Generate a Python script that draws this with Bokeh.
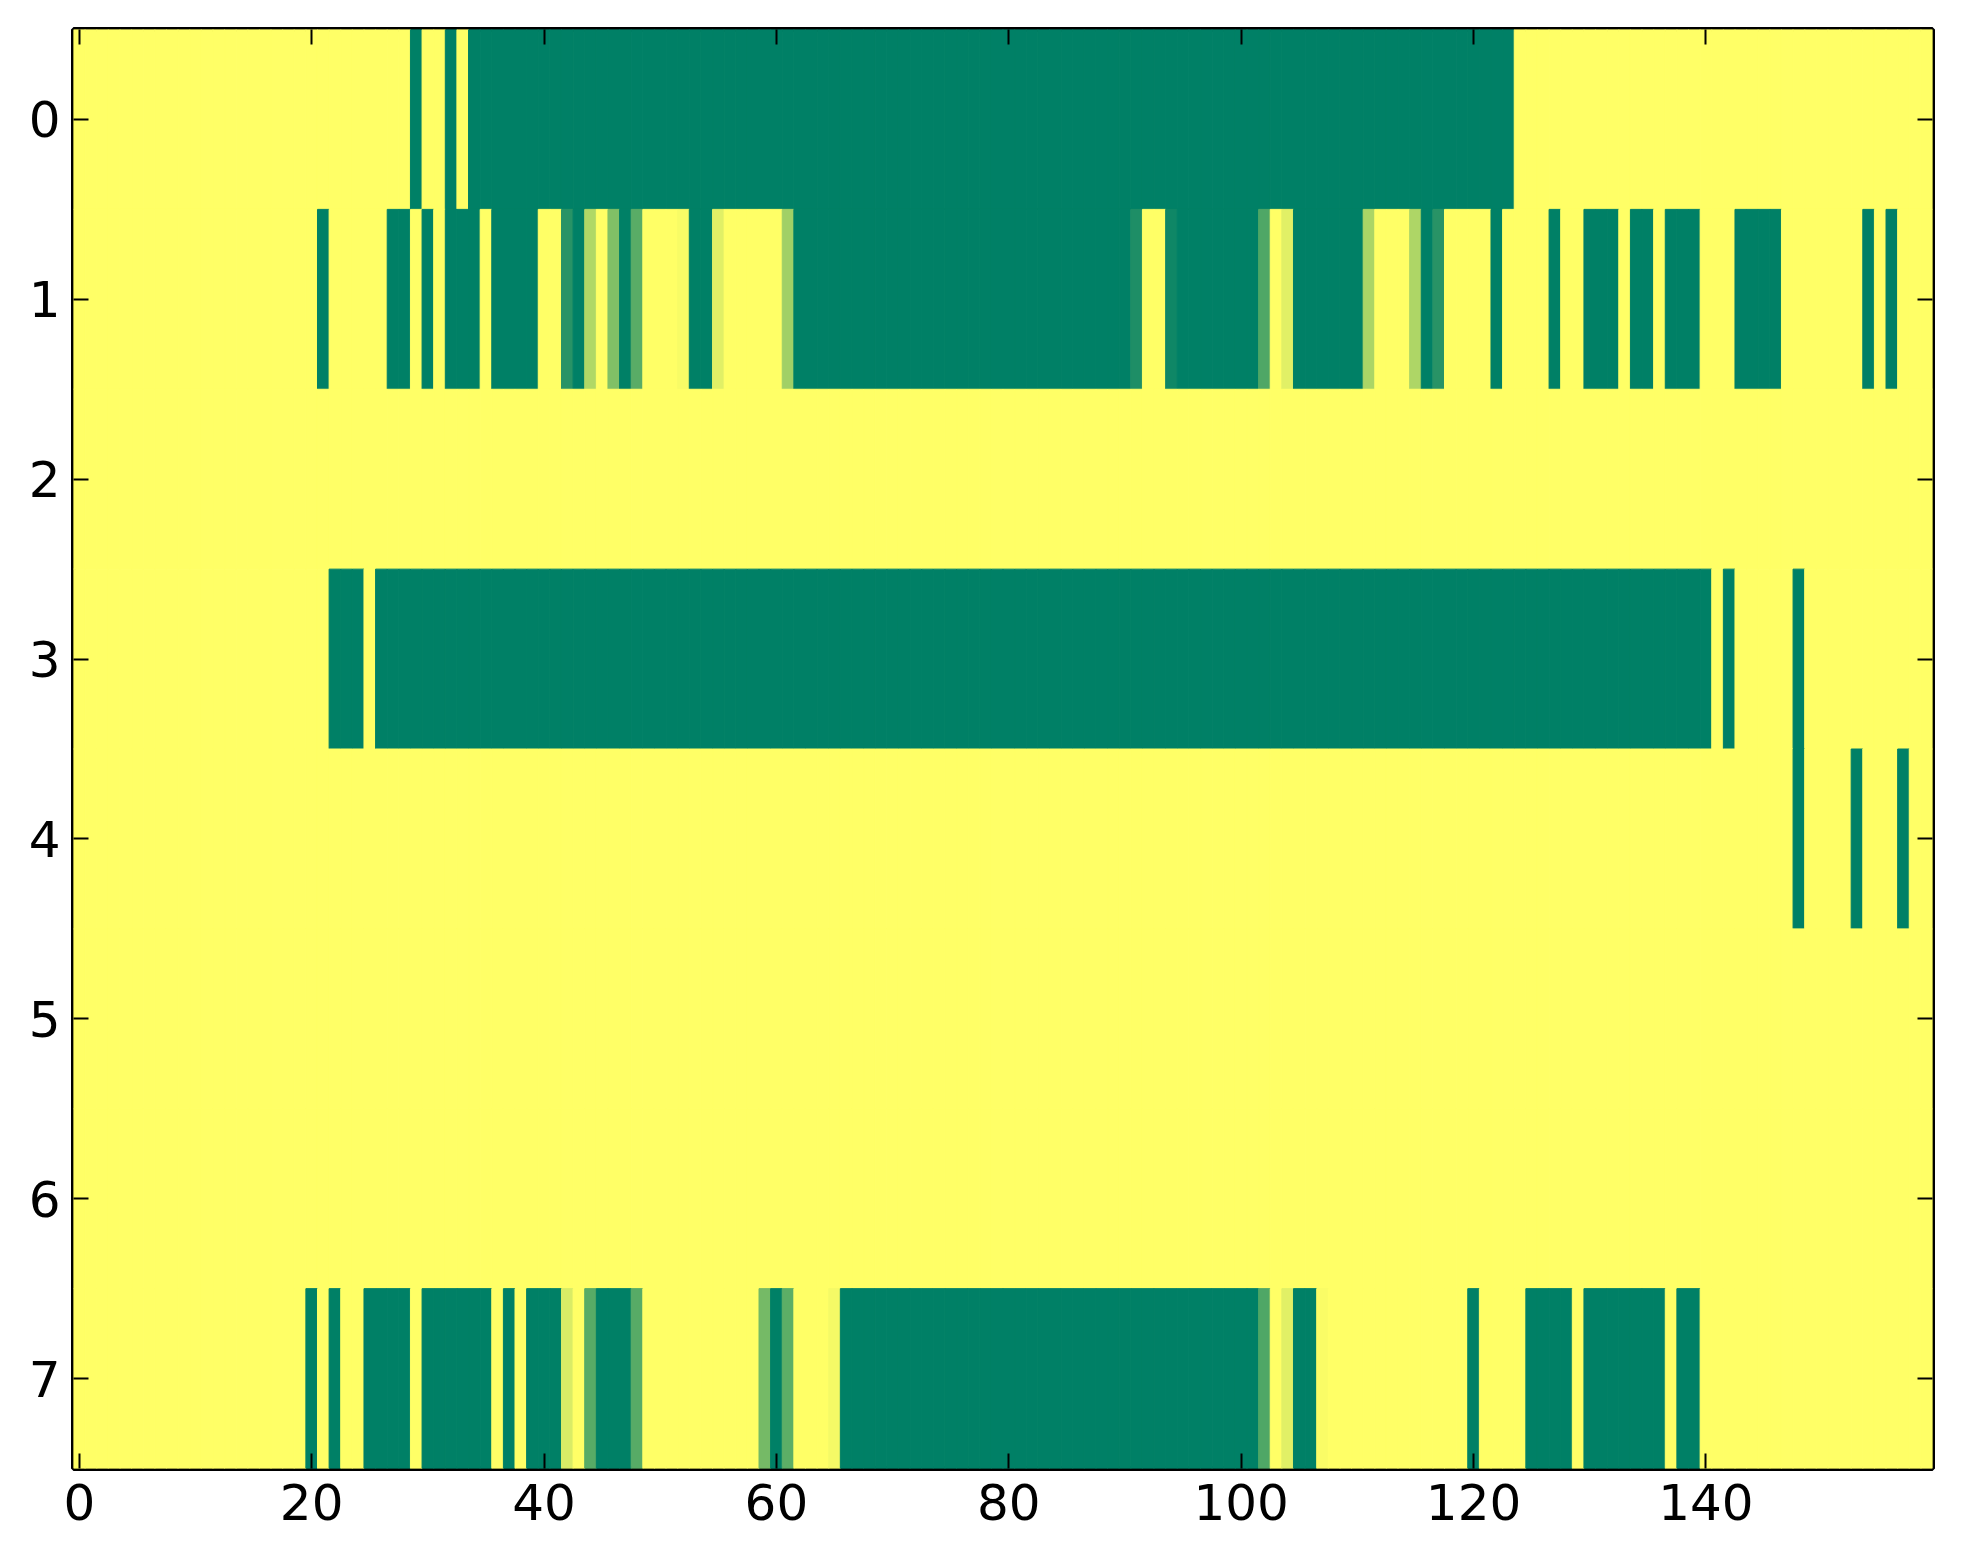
import numpy as np
from bokeh.plotting import figure
from bokeh.models import Range1d, LinearAxis, FixedTicker, LinearColorMapper, ColumnDataSource
from bokeh.embed import file_html
from bokeh.resources import INLINE

# ---- data ----
n_cols = 160
row_ids = [0, 1, 2, 3, 4, 5, 6, 7]
x_ticks = [0, 20, 40, 60, 80, 100, 120, 140]
y_ticks = [0, 1, 2, 3, 4, 5, 6, 7]

# each row as (run length, value) pairs, left to right
row0 = [(29, 1), (1, 0), (2, 1), (1, 0), (1, 1), (90, 0), (36, 1)]
row1 = [(21, 1), (1, 0), (5, 1), (2, 0), (1, 1), (1, 0), (1, 1), (3, 0), (1, 1),
        (4, 0), (2, 1), (1, 0.16), (1, 0), (1, 0.69), (1, 1), (1, 0.5), (1, 0),
        (1, 0.35), (3, 1), (1, 0.97), (2, 0), (1, 0.88), (5, 1), (1, 0.63),
        (29, 0), (1, 0.12), (2, 1), (1, 0.06), (7, 0), (1, 0.31), (1, 1),
        (1, 0.88), (6, 0), (1, 0.67), (3, 1), (1, 0.68), (1, 0), (1, 0.16),
        (4, 1), (1, 0), (4, 1), (1, 0), (2, 1), (3, 0), (1, 1), (2, 0), (1, 1),
        (3, 0), (3, 1), (4, 0), (7, 1), (1, 0), (1, 1), (1, 0), (3, 1)]
row2 = [(160, 1)]
row3 = [(22, 1), (3, 0), (1, 1), (115, 0), (1, 1), (1, 0), (5, 1), (1, 0), (11, 1)]
row4 = [(148, 1), (1, 0), (4, 1), (1, 0), (3, 1), (1, 0), (2, 1)]
row5 = [(160, 1)]
row6 = [(160, 1)]
row7 = [(20, 1), (1, 0), (1, 1), (1, 0), (2, 1), (4, 0), (1, 1), (6, 0), (1, 1),
        (1, 0), (1, 1), (3, 0), (1, 0.85), (1, 1), (1, 0.34), (3, 0), (1, 0.34),
        (10, 1), (1, 0.46), (1, 0), (1, 0.36), (3, 1), (1, 0.96), (36, 0),
        (1, 0.31), (1, 1), (1, 0.88), (2, 0), (1, 0.98), (12, 1), (1, 0),
        (4, 1), (4, 0), (1, 1), (7, 0), (1, 1), (2, 0), (20, 1)]
rows = [row0, row1, row2, row3, row4, row5, row6, row7]


def expand(runs):
    out = []
    for count, val in runs:
        out.extend([val] * count)
    return out


xs, ys, vs = [], [], []
for r, runs in zip(row_ids, rows):
    vals = expand(runs)
    for c, v in enumerate(vals):
        xs.append(c)
        ys.append(r)
        vs.append(v)

src = ColumnDataSource(dict(x=xs, y=ys, v=vs))

# matplotlib "summer" colormap
palette = ['#%02x%02x%02x' % (int(round(255 * t)), int(round(255 * (0.5 + 0.5 * t))), 102)
           for t in np.linspace(0, 1, 256)]
mapper = LinearColorMapper(palette=palette, low=0, high=1)

p = figure(x_range=Range1d(-0.5, n_cols - 0.5), y_range=Range1d(7.5, -0.5),
           frame_width=1859, frame_height=1439,
           min_border_left=73, min_border_top=29, min_border_right=20, min_border_bottom=75,
           output_backend="svg", toolbar_location=None, background_fill_color="white")

p.rect(x='x', y='y', width=1, height=1, source=src,
       fill_color={'field': 'v', 'transform': mapper},
       line_color={'field': 'v', 'transform': mapper}, line_width=1)

p.grid.visible = False
p.outline_line_color = "black"
p.outline_line_width = 5
p.outline_line_alpha = 1.0

FONT = "DejaVu Sans"

def style_axis(ax, standoff=10):
    ax.axis_line_color = None
    ax.major_tick_in = 15
    ax.major_tick_out = 0
    ax.major_tick_line_width = 2
    ax.major_tick_line_color = "black"
    ax.minor_tick_line_color = None
    ax.major_label_text_font = FONT
    ax.major_label_text_color = "black"
    ax.major_label_text_font_size = "50px"
    ax.major_label_standoff = standoff

p.xaxis.ticker = FixedTicker(ticks=x_ticks)
p.yaxis.ticker = FixedTicker(ticks=y_ticks)
style_axis(p.xaxis[0], 15)
style_axis(p.yaxis[0], 13)

top_ax = LinearAxis(ticker=FixedTicker(ticks=x_ticks),
                    major_label_overrides={t: "" for t in x_ticks})
style_axis(top_ax, 0)
p.add_layout(top_ax, "above")
right_ax = LinearAxis(ticker=FixedTicker(ticks=y_ticks),
                      major_label_overrides={t: "" for t in y_ticks})
style_axis(right_ax, 0)
p.add_layout(right_ax, "right")

open("out.html", "w").write(file_html(p, INLINE))
